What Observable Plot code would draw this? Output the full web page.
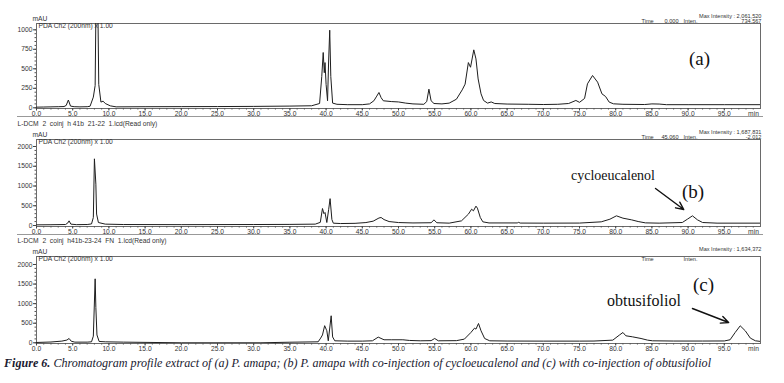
<!DOCTYPE html>
<html><head><meta charset="utf-8">
<script src="https://cdn.jsdelivr.net/npm/d3@7"></script>
<script src="https://cdn.jsdelivr.net/npm/@observablehq/plot@0.6"></script>
<style>
html,body{margin:0;padding:0;background:#fff;}
body{width:784px;height:383px;overflow:hidden;position:relative;font-family:"Liberation Sans",Arial,sans-serif;}
#chart svg{display:block;overflow:visible;}
#caption{position:absolute;left:4px;top:353px;height:20px;line-height:20px;white-space:nowrap;font-family:"Liberation Serif","Times New Roman",serif;font-style:italic;font-size:13px;color:#1a1a30;transform-origin:0 50%;}
</style></head>
<body>
<div id="chart"></div>
<div id="caption"><b>Figure 6.</b> Chromatogram profile extract of (a) P. amapa; (b) P. amapa with co-injection of cycloeucalenol and (c) with co-injection of obtusifoliol</div>
<script>
// ---- data (retention time, min / intensity, mAU) ----
const timesA = [0,1,2,3,3.8,4.1,4.4,4.7,5.2,6,7,7.4,7.85,8.1,8.3,8.45,8.6,8.9,9.2,9.5,10.2,11,15,20,25,30,35,38,39.1,39.4,39.6,39.75,39.85,40,40.2,40.35,40.5,40.65,40.9,41.5,43,45,46,46.6,47,47.3,47.6,47.9,49,50,51,52,53.5,53.9,54.2,54.5,54.9,56,57,58,58.8,59.2,59.65,59.95,60.4,60.7,61,61.4,61.75,62.3,62.8,63.3,65,68,70,72,73.5,74.5,75,75.7,76.1,76.8,77.5,78.1,78.6,79.1,79.7,81,84,85,86,87,90,95,100];
const valuesA = [8,10,12,14,16,30,100,22,14,12,14,20,137,286,2061,1500,300,73,85,55,25,12,14,15,16,18,22,26,55,400,709,450,580,300,90,600,995,400,60,45,40,40,50,90,150,196,130,90,80,75,60,50,45,80,239,90,55,50,60,110,230,303,580,520,743,627,370,179,94,60,75,55,48,45,42,45,55,94,70,120,307,414,329,179,145,73,51,45,42,50,48,40,40,40,40];

const timesB = [0,2,4,4.3,4.5,4.75,5.5,7,7.6,7.85,8,8.2,8.3,8.55,9.5,12,20,30,35,38.5,39.2,39.5,39.7,39.85,40.1,40.35,40.55,40.8,41,42,44,45.5,46.5,47.3,47.6,48,48.7,50,52,54.5,54.9,55.3,57,58.7,59.65,60.1,60.35,60.7,60.9,61.3,61.65,62.5,66.4,66.6,66.8,70,75,78,79.2,80.1,81,82.2,83.1,84.1,86,89.2,89.9,90.6,91.3,92,94,100];
const valuesB = [17,20,25,60,118,35,22,25,40,203,1688,1046,290,76,35,25,22,25,28,35,80,430,300,330,76,400,680,150,59,50,55,75,110,190,203,150,100,75,65,70,143,70,60,118,287,413,371,490,439,203,93,65,65,80,62,60,62,93,160,245,186,143,101,67,60,76,160,245,143,76,60,60];

const timesC = [0,2,3.5,4.2,4.5,4.8,5.3,7,7.6,7.85,8.1,8.2,8.35,8.65,9.5,12,20,31,35,38.9,39.25,39.5,39.8,40,40.1,40.3,40.7,40.9,41.2,43,45,46.4,47.2,48,49,50.6,51.5,53,54.5,55,55.5,58,59.1,60,60.5,60.7,61.05,61.4,61.9,62.6,65,70,75,77,79.6,80.5,81,81.4,82.3,83.5,84.4,85.1,88,92,95,95.8,96.5,97.2,97.9,98.6,99.3,100];
const valuesC = [8,20,43,70,110,40,17,17,25,170,1634,900,200,34,25,17,0,0,15,25,120,200,437,350,308,51,690,150,51,43,43,51,145,77,77,77,60,51,55,110,51,55,94,263,374,349,493,306,110,51,45,43,43,45,68,196,263,179,153,110,68,51,45,45,47,77,263,434,306,119,51,35];

// ---- axis ticks ----
const xMajorTicks = d3.range(0, 100, 5);
const xMinorTicks = d3.range(0, 100, 1);
const yTicksA = [0, 250, 500, 750, 1000];
const yTicksBC = [0, 500, 1000, 1500, 2000];

// ---- texts ----
const panelLabels = ["(a)", "(b)", "(c)"];
const maxIntensity = ["2,061,520", "1,687,831", "1,634,372"];
const timeValues = ["0.000", "45.060", ""];
const intenValues = ["734.567", "-2.012", ""];
const fileLabels = ["L-DCM  2  coinj  h 41b  21-22  1.lcd(Read only)", "L-DCM  2  coinj  h41b-23-24  FN  1.lcd(Read only)"];
const compoundNames = ["cycloeucalenol", "obtusifoliol"];
const arrowB = [{x1: 85.5, y1: 937, x2: 89.4, y2: 405}];
const arrowC = [{x1: 90.6, y1: 876, x2: 95.6, y2: 518}];

const SANS = "Liberation Sans, Arial, sans-serif";
const SERIF = "Liberation Serif, Times New Roman, serif";
const FS = 6.7;
const HFS = 5.6;

function note(txt, anchor, dx, dy, textAnchor, fontSize, fontFamily, fill) {
  return Plot.text([txt], {frameAnchor: anchor, text: d => d, dx, dy, textAnchor, lineAnchor: "middle", fontSize, fontFamily, fill});
}

function panel({times, values, yDomain, yTicks, yMinor, height, marginTop, marginBottom, idx, file, timeInside, extras, sep}) {
  const data = times.map((t, i) => ({t, v: values[i]}));
  const hdr = (txt, dx, dy, a) => note(txt, "top-right", dx, dy, a, HFS, SANS, "#333");
  const tdy = timeInside ? 3 : -2;
  const marks = [
    Plot.frame({stroke: "#6a6a6a"}),
    Plot.axisX({ticks: xMinorTicks, tickSize: 1.5, text: null, stroke: "#555"}),
    Plot.axisX({ticks: xMajorTicks, tickSize: 2.5, tickPadding: 0, tickFormat: d => d.toFixed(1), label: null, fontSize: FS, fill: "#333", stroke: "#444"}),
    Plot.axisY({ticks: yMinor, tickSize: 1.5, text: null, stroke: "#555"}),
    Plot.axisY({ticks: yTicks, tickSize: 3, tickPadding: 1, tickFormat: d => String(d), label: null, fontSize: FS, fill: "#333", stroke: "#444"}),
    Plot.line(data, {x: "t", y: "v", stroke: "#1e1e1e", strokeWidth: 1, clip: true}),
    note("min", "bottom-right", -7, 5.5, "middle", FS, SANS, "#333"),
    note("mAU", "top-left", -4, -4.5, "start", FS, SANS, "#333"),
    note("PDA Ch2 (200nm) x 1.00", "top-left", 2, 2.5, "start", FS, SANS, "#333"),
    hdr("Max Intensity : " + maxIntensity[idx], 1, -7.5, "end"),
    hdr("Time", -119, tdy, "start"),
    hdr(timeValues[idx], -82, tdy, "end"),
    hdr("Inten.", -77, tdy, "start"),
    hdr(intenValues[idx], 1, tdy, "end"),
  ];
  if (file) marks.push(note(file, "top-left", -19, -16, "start", FS, SANS, "#333"));
  marks.push(...extras);
  const svg = Plot.plot({
    width: 784, height, marginTop, marginBottom, marginLeft: 36, marginRight: 24,
    style: {fontFamily: SANS, fontSize: FS + "px", color: "#333", background: "white", overflow: "visible"},
    x: {domain: [0, 100], label: null},
    y: {domain: yDomain, label: null},
    marks
  });
  if (sep) {
    d3.select(svg).append("line").attr("x1", 17).attr("x2", 763).attr("y1", height - 0.5).attr("y2", height - 0.5).attr("stroke", "#999").attr("stroke-width", 1);
  }
  return svg;
}

const chart = document.getElementById("chart");

chart.append(panel({
  times: timesA, values: valuesA, yDomain: [-9, 1081], yTicks: yTicksA, yMinor: d3.range(0, 1001, 50),
  height: 117, marginTop: 23, marginBottom: 9, idx: 0, file: null, timeInside: false, sep: true,
  extras: [
    note(panelLabels[0], "top-right", -61, 35, "middle", 19, SERIF, "#111")
  ]
}));

chart.append(panel({
  times: timesB, values: valuesB, yDomain: [-25, 2177], yTicks: yTicksBC, yMinor: d3.range(0, 2001, 100),
  height: 118, marginTop: 22, marginBottom: 9, idx: 1, file: fileLabels[0], timeInside: false, sep: true,
  extras: [
    note(panelLabels[1], "top-right", -67.5, 52, "middle", 19, SERIF, "#111"),
    note(compoundNames[0], "top-right", -147.5, 36, "middle", 14, SERIF, "#111"),
    Plot.arrow(arrowB, {x1: "x1", y1: "y1", x2: "x2", y2: "y2", stroke: "#111", strokeWidth: 1.4, headLength: 9, headAngle: 50})
  ]
}));

chart.append(panel({
  times: timesC, values: valuesC, yDomain: [-18, 2204], yTicks: yTicksBC, yMinor: d3.range(0, 2001, 100),
  height: 118, marginTop: 21, marginBottom: 10, idx: 2, file: fileLabels[1], timeInside: true, sep: false,
  extras: [
    note(panelLabels[2], "top-right", -57, 28, "middle", 19, SERIF, "#111"),
    note(compoundNames[1], "top-right", -116.5, 44, "middle", 16, SERIF, "#111"),
    Plot.arrow(arrowC, {x1: "x1", y1: "y1", x2: "x2", y2: "y2", stroke: "#111", strokeWidth: 1.4, headLength: 9, headAngle: 50})
  ]
}));

// fit the caption width to the reference's line length
const cap = document.getElementById("caption");
const w = cap.getBoundingClientRect().width;
cap.style.transform = "scaleX(" + (707 / w) + ")";
</script>
</body></html>
